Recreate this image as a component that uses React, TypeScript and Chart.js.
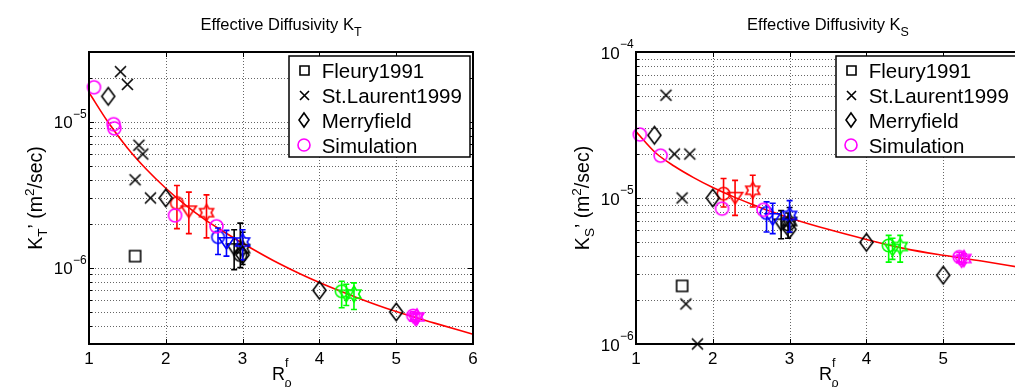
import { useEffect, useRef } from 'react';
import { Chart, registerables } from 'chart.js';

Chart.register(...registerables);

const FONT = '"Liberation Sans", Arial, Helvetica, sans-serif';

// ---------- shared ----------
const xTickValues = [1, 2, 3, 4, 5, 6];
const legendLabels = ['Fleury1991', 'St.Laurent1999', 'Merryfield', 'Simulation'];

// ---------- K_T panel ----------
const ktYRange = [3e-7, 3e-5];
const ktYMajor = [1e-6, 1e-5];
const ktFleuryX = [1.6];
const ktFleuryY = [1.2e-6];
const ktLaurentX = [1.41, 1.5, 1.65, 1.7, 1.6, 1.8];
const ktLaurentY = [2.2e-5, 1.8e-5, 6.9e-6, 6.0e-6, 4.0e-6, 3.0e-6];
const ktMerryX = [1.25, 2.0, 3.0, 4.0, 5.0];
const ktMerryY = [1.49e-5, 3.0e-6, 1.22e-6, 7.0e-7, 4.97e-7];
const ktSimX = [1.065, 1.32, 1.33, 2.12, 2.66];
const ktSimY = [1.72e-5, 9.6e-6, 9.0e-6, 2.28e-6, 1.92e-6];
// groups: [circle, down-triangle, hexagram]
const ktRedX = [2.145, 2.3, 2.53];
const ktRedY = [2.77e-6, 2.47e-6, 2.38e-6];
const ktRedLo = [1.85e-6, 1.71e-6, 1.6e-6];
const ktRedHi = [3.65e-6, 3.29e-6, 3.15e-6];
const ktBlueX = [2.68, 2.79, 3.0];
const ktBlueY = [1.62e-6, 1.5e-6, 1.5e-6];
const ktBlueLo = [1.23e-6, 1.2e-6, 1.13e-6];
const ktBlueHi = [1.87e-6, 1.8e-6, 1.82e-6];
const ktBlackX = [2.97, 2.89, 3.0];
const ktBlackY = [1.22e-6, 1.36e-6, 1.35e-6];
const ktBlackLo = [1.0e-6, 9.7e-7, 1.05e-6];
const ktBlackHi = [2.02e-6, 1.82e-6, 1.75e-6];
const ktGreenX = [4.29, 4.35, 4.45];
const ktGreenY = [6.9e-7, 6.55e-7, 6.6e-7];
const ktGreenLo = [5.32e-7, 5.5e-7, 5.17e-7];
const ktGreenHi = [8.07e-7, 7.7e-7, 7.87e-7];
const ktMagentaX = [5.22, 5.25, 5.27];
const ktMagentaY = [4.7e-7, 4.5e-7, 4.6e-7];
const ktMagentaLo = [4.4e-7, 4.2e-7, 4.3e-7];
const ktMagentaHi = [5.0e-7, 4.8e-7, 4.9e-7];
const ktCurveX = [1, 1.25, 1.5, 1.75, 2, 2.25, 2.5, 2.75, 3, 3.5, 4, 4.5, 5, 5.5, 6];
const ktCurveY = [1.585e-5, 9.9e-6, 6.6e-6, 4.7e-6, 3.5e-6, 2.7e-6, 2.15e-6, 1.77e-6, 1.47e-6, 1.05e-6, 7.9e-7, 6.2e-7, 5.0e-7, 4.17e-7, 3.5e-7];

// ---------- K_S panel ----------
const ksYRange = [1e-6, 1e-4];
const ksYMajor = [1e-6, 1e-5, 1e-4];
const ksFleuryX = [1.6];
const ksFleuryY = [2.5e-6];
const ksLaurentX = [1.39, 1.5, 1.7, 1.6, 1.65, 1.8];
const ksLaurentY = [5.06e-5, 2.0e-5, 2.0e-5, 1.0e-5, 1.88e-6, 1.0e-6];
const ksMerryX = [1.24, 2.0, 3.0, 4.0, 5.0];
const ksMerryY = [2.69e-5, 1.0e-5, 6.1e-6, 4.97e-6, 2.96e-6];
const ksSimX = [1.05, 1.32, 2.12, 2.66];
const ksSimY = [2.72e-5, 1.95e-5, 8.45e-6, 8.3e-6];
const ksRedX = [2.14, 2.29, 2.52];
const ksRedY = [1.07e-5, 1.02e-5, 1.13e-5];
const ksRedLo = [8.68e-6, 7.6e-6, 8.68e-6];
const ksRedHi = [1.36e-5, 1.32e-5, 1.43e-5];
const ksBlueX = [2.7, 2.78, 3.0];
const ksBlueY = [7.9e-6, 7.3e-6, 7.6e-6];
const ksBlueLo = [5.85e-6, 5.7e-6, 5.85e-6];
const ksBlueHi = [9.4e-6, 9.2e-6, 9.6e-6];
const ksBlackX = [2.98, 2.89, 3.0];
const ksBlackY = [6.6e-6, 6.7e-6, 6.9e-6];
const ksBlackLo = [5.3e-6, 5.26e-6, 5.8e-6];
const ksBlackHi = [7.9e-6, 8.2e-6, 8.6e-6];
const ksGreenX = [4.29, 4.34, 4.44];
const ksGreenY = [4.73e-6, 4.5e-6, 4.65e-6];
const ksGreenLo = [3.64e-6, 3.8e-6, 3.64e-6];
const ksGreenHi = [5.55e-6, 5.3e-6, 5.55e-6];
const ksMagentaX = [5.21, 5.24, 5.27];
const ksMagentaY = [3.95e-6, 3.75e-6, 3.85e-6];
const ksMagentaLo = [3.65e-6, 3.5e-6, 3.6e-6];
const ksMagentaHi = [4.25e-6, 4.05e-6, 4.15e-6];
const ksCurveX = [1, 1.25, 1.5, 1.75, 2, 2.25, 2.5, 2.75, 3, 3.5, 4, 4.5, 5, 5.5, 6];
const ksCurveY = [2.85e-5, 2.05e-5, 1.65e-5, 1.38e-5, 1.18e-5, 1.03e-5, 9.1e-6, 8.1e-6, 7.3e-6, 6.1e-6, 5.2e-6, 4.5e-6, 4.05e-6, 3.7e-6, 3.35e-6];

type Group = { color: string; x: number[]; y: number[]; lo: number[]; hi: number[] };
type PanelData = {
  sub: string;
  yRange: number[];
  yMajor: number[];
  fleury: [number[], number[]];
  laurent: [number[], number[]];
  merry: [number[], number[]];
  sim: [number[], number[]];
  groups: Group[];
  curve: [number[], number[]];
};

const ktPanel: PanelData = {
  sub: 'T',
  yRange: ktYRange,
  yMajor: ktYMajor,
  fleury: [ktFleuryX, ktFleuryY],
  laurent: [ktLaurentX, ktLaurentY],
  merry: [ktMerryX, ktMerryY],
  sim: [ktSimX, ktSimY],
  groups: [
    { color: '#ff0000', x: ktRedX, y: ktRedY, lo: ktRedLo, hi: ktRedHi },
    { color: '#0000ff', x: ktBlueX, y: ktBlueY, lo: ktBlueLo, hi: ktBlueHi },
    { color: '#000000', x: ktBlackX, y: ktBlackY, lo: ktBlackLo, hi: ktBlackHi },
    { color: '#00ff00', x: ktGreenX, y: ktGreenY, lo: ktGreenLo, hi: ktGreenHi },
    { color: '#ff00ff', x: ktMagentaX, y: ktMagentaY, lo: ktMagentaLo, hi: ktMagentaHi },
  ],
  curve: [ktCurveX, ktCurveY],
};

const ksPanel: PanelData = {
  sub: 'S',
  yRange: ksYRange,
  yMajor: ksYMajor,
  fleury: [ksFleuryX, ksFleuryY],
  laurent: [ksLaurentX, ksLaurentY],
  merry: [ksMerryX, ksMerryY],
  sim: [ksSimX, ksSimY],
  groups: [
    { color: '#ff0000', x: ksRedX, y: ksRedY, lo: ksRedLo, hi: ksRedHi },
    { color: '#0000ff', x: ksBlueX, y: ksBlueY, lo: ksBlueLo, hi: ksBlueHi },
    { color: '#000000', x: ksBlackX, y: ksBlackY, lo: ksBlackLo, hi: ksBlackHi },
    { color: '#00ff00', x: ksGreenX, y: ksGreenY, lo: ksGreenLo, hi: ksGreenHi },
    { color: '#ff00ff', x: ksMagentaX, y: ksMagentaY, lo: ksMagentaLo, hi: ksMagentaHi },
  ],
  curve: [ksCurveX, ksCurveY],
};

// ---------- helpers ----------
function makeMarker(kind: string, color: string, w: number, h: number, lw: number): HTMLCanvasElement {
  const pad = Math.ceil(lw) + 1;
  const c = document.createElement('canvas');
  c.width = Math.round(w + 2 * pad);
  c.height = Math.round(h + 2 * pad);
  const g = c.getContext('2d')!;
  g.strokeStyle = color;
  g.lineWidth = lw;
  const cx = c.width / 2;
  const cy = c.height / 2;
  const hw = w / 2;
  const hh = h / 2;
  g.beginPath();
  if (kind === 'circle') {
    g.arc(cx, cy, hw, 0, Math.PI * 2);
  } else if (kind === 'square') {
    g.rect(cx - hw, cy - hh, w, h);
  } else if (kind === 'diamond') {
    g.moveTo(cx, cy - hh);
    g.lineTo(cx + hw, cy);
    g.lineTo(cx, cy + hh);
    g.lineTo(cx - hw, cy);
    g.closePath();
  } else if (kind === 'x') {
    g.moveTo(cx - hw, cy - hh);
    g.lineTo(cx + hw, cy + hh);
    g.moveTo(cx + hw, cy - hh);
    g.lineTo(cx - hw, cy + hh);
  } else if (kind === 'triDown') {
    g.moveTo(cx - hw, cy - hh * 0.6);
    g.lineTo(cx + hw, cy - hh * 0.6);
    g.lineTo(cx, cy + hh);
    g.closePath();
  } else if (kind === 'hexagram') {
    for (let k = 0; k < 12; k++) {
      const r = k % 2 === 0 ? hw : hw * 0.58;
      const ang = -Math.PI / 2 + (k * Math.PI) / 6;
      const px = cx + r * Math.cos(ang);
      const py = cy + r * Math.sin(ang);
      if (k === 0) g.moveTo(px, py);
      else g.lineTo(px, py);
    }
    g.closePath();
  }
  g.stroke();
  return c;
}

type Seg = { t: string; size: number; dy: number };
function drawRich(ctx: CanvasRenderingContext2D, segs: Seg[], x: number, y: number, align: 'left' | 'center' | 'right') {
  const widths = segs.map((s) => {
    ctx.font = `${s.size}px ${FONT}`;
    return ctx.measureText(s.t).width;
  });
  const total = widths.reduce((p, c) => p + c, 0);
  let cur = align === 'center' ? x - total / 2 : align === 'right' ? x - total : x;
  ctx.textAlign = 'left';
  ctx.textBaseline = 'alphabetic';
  segs.forEach((s, i) => {
    ctx.font = `${s.size}px ${FONT}`;
    ctx.fillText(s.t, cur, y + s.dy);
    cur += widths[i];
  });
}

function logGridValues(min: number, max: number): number[] {
  const out: number[] = [];
  const e0 = Math.floor(Math.log10(min));
  const e1 = Math.ceil(Math.log10(max));
  for (let e = e0; e <= e1; e++) {
    for (let m = 1; m <= 9; m++) {
      const v = parseFloat((m * Math.pow(10, e)).toPrecision(6));
      if (v >= min * (1 - 1e-9) && v <= max * (1 + 1e-9)) out.push(v);
    }
  }
  return out;
}

function isMajor(v: number, majors: number[]) {
  return majors.some((m) => Math.abs(v / m - 1) < 1e-6);
}

function buildConfig(panel: PanelData) {
  const lw = 1.6;
  const mk = {
    square: makeMarker('square', '#000', 11, 11, lw),
    x: makeMarker('x', '#000', 11, 11, lw),
    diamond: makeMarker('diamond', '#000', 13, 17.5, lw),
    simCircle: makeMarker('circle', '#ff00ff', 13, 13, lw),
  };
  const legendMarkers = [
    makeMarker('square', '#000', 9, 9, lw),
    makeMarker('x', '#000', 9, 9, lw),
    makeMarker('diamond', '#000', 10, 14, lw),
    makeMarker('circle', '#ff00ff', 12, 12, lw),
  ];
  const toPts = (xs: number[], ys: number[]) => xs.map((x, i) => ({ x, y: ys[i] }));

  const groupSets = panel.groups.map((g) => ({
    label: 'group',
    data: g.x.map((x, i) => ({ x, y: g.y[i], lo: g.lo[i], hi: g.hi[i] })),
    pointStyle: [
      makeMarker('circle', g.color, 12.5, 12.5, lw),
      makeMarker('triDown', g.color, 15, 14, lw),
      makeMarker('hexagram', g.color, 16, 16, lw),
    ],
    pointRadius: 6,
    errorBars: true,
    errColor: g.color,
    clip: false,
  }));

  const datasets: any[] = [
    { label: legendLabels[0], data: toPts(panel.fleury[0], panel.fleury[1]), pointStyle: mk.square, pointRadius: 6, clip: false },
    { label: legendLabels[1], data: toPts(panel.laurent[0], panel.laurent[1]), pointStyle: mk.x, pointRadius: 6, clip: false },
    { label: legendLabels[2], data: toPts(panel.merry[0], panel.merry[1]), pointStyle: mk.diamond, pointRadius: 6, clip: false },
    { label: legendLabels[3], data: toPts(panel.sim[0], panel.sim[1]), pointStyle: mk.simCircle, pointRadius: 6, clip: false },
    ...groupSets,
    {
      label: 'fit',
      data: toPts(panel.curve[0], panel.curve[1]),
      showLine: true,
      borderColor: '#ff0000',
      borderWidth: 1.6,
      pointRadius: 0,
      cubicInterpolationMode: 'monotone',
      clip: false,
    },
  ];

  const [yMin, yMax] = panel.yRange;

  const plugin = {
    id: 'matlabPanel',
    beforeDatasetsDraw(chart: any) {
      const { ctx, chartArea: a } = chart;
      const xs = chart.scales.x;
      const ys = chart.scales.y;
      ctx.save();
      ctx.strokeStyle = '#666666';
      ctx.lineWidth = 1;
      ctx.setLineDash([1, 2]);
      ctx.beginPath();
      for (const v of xTickValues) {
        if (v <= xTickValues[0] || v >= xTickValues[xTickValues.length - 1]) continue;
        const px = Math.round(xs.getPixelForValue(v)) + 0.5;
        ctx.moveTo(px, a.top);
        ctx.lineTo(px, a.bottom);
      }
      for (const v of logGridValues(yMin, yMax)) {
        const py = Math.round(ys.getPixelForValue(v)) + 0.5;
        if (py <= a.top + 1 || py >= a.bottom - 1) continue;
        ctx.moveTo(a.left, py);
        ctx.lineTo(a.right, py);
      }
      ctx.stroke();
      ctx.restore();
    },
    beforeDatasetDraw(chart: any, args: any) {
      const ds = chart.data.datasets[args.index];
      if (!ds.errorBars) return;
      const { ctx } = chart;
      const ys = chart.scales.y;
      ctx.save();
      ctx.strokeStyle = ds.errColor;
      ctx.lineWidth = 1.6;
      ctx.beginPath();
      args.meta.data.forEach((el: any, i: number) => {
        const raw = ds.data[i];
        const px = el.x;
        const pLo = ys.getPixelForValue(raw.lo);
        const pHi = ys.getPixelForValue(raw.hi);
        ctx.moveTo(px, pLo);
        ctx.lineTo(px, pHi);
        ctx.moveTo(px - 3, pLo);
        ctx.lineTo(px + 3, pLo);
        ctx.moveTo(px - 3, pHi);
        ctx.lineTo(px + 3, pHi);
      });
      ctx.stroke();
      ctx.restore();
    },
    afterDraw(chart: any) {
      const { ctx, chartArea: a } = chart;
      const xs = chart.scales.x;
      const ys = chart.scales.y;
      ctx.save();
      ctx.setLineDash([]);
      ctx.strokeStyle = '#000';
      ctx.fillStyle = '#000';
      // tick marks
      ctx.lineWidth = 1;
      ctx.beginPath();
      for (const v of xTickValues) {
        const px = Math.round(xs.getPixelForValue(v)) + 0.5;
        ctx.moveTo(px, a.bottom);
        ctx.lineTo(px, a.bottom - 5);
        ctx.moveTo(px, a.top);
        ctx.lineTo(px, a.top + 5);
      }
      for (const v of logGridValues(yMin, yMax)) {
        const py = Math.round(ys.getPixelForValue(v)) + 0.5;
        const len = isMajor(v, panel.yMajor) ? 5 : 3;
        ctx.moveTo(a.left, py);
        ctx.lineTo(a.left + len, py);
        ctx.moveTo(a.right, py);
        ctx.lineTo(a.right - len, py);
      }
      ctx.stroke();
      // box
      ctx.lineWidth = 2;
      ctx.strokeRect(a.left, a.top, a.right - a.left, a.bottom - a.top);

      // x tick labels
      ctx.textAlign = 'center';
      ctx.textBaseline = 'alphabetic';
      ctx.font = `17px ${FONT}`;
      for (const v of xTickValues) {
        ctx.fillText(String(v), xs.getPixelForValue(v), a.bottom + 20);
      }
      // y tick labels
      for (const v of panel.yMajor) {
        const py = ys.getPixelForValue(v);
        const exp = Math.round(Math.log10(v));
        ctx.font = `17px ${FONT}`;
        ctx.textAlign = 'right';
        ctx.fillText('10', a.left - 16.3, py + 6.5);
        ctx.font = `12px ${FONT}`;
        ctx.textAlign = 'left';
        ctx.fillText(exp < 0 ? '\u2212' + String(-exp) : String(exp), a.left - 16, py - 4);
      }
      // title
      const cx = (a.left + a.right) / 2;
      drawRich(
        ctx,
        [
          { t: 'Effective Diffusivity K', size: 16.5, dy: 0 },
          { t: panel.sub, size: 12.5, dy: 6 },
        ],
        cx,
        29.5,
        'center'
      );
      // x label R_rho^f
      ctx.font = `18px ${FONT}`;
      ctx.textAlign = 'left';
      ctx.fillText('R', cx - 9, a.bottom + 36);
      ctx.font = `12.5px ${FONT}`;
      ctx.fillText('f', cx + 4, a.bottom + 23);
      ctx.fillText('\u03C1', cx + 3.5, a.bottom + 43);
      // y label
      ctx.save();
      ctx.translate(a.left - 47.5, (a.top + a.bottom) / 2);
      ctx.rotate(-Math.PI / 2);
      drawRich(
        ctx,
        [
          { t: 'K', size: 19.5, dy: 0 },
          { t: panel.sub, size: 13.5, dy: 5 },
          { t: '\u2019 (m', size: 19.5, dy: 0 },
          { t: '2', size: 13.5, dy: -8 },
          { t: '/sec)', size: 19.5, dy: 0 },
        ],
        0,
        0,
        'center'
      );
      ctx.restore();

      // legend
      const lx = a.left + 200;
      const ly = a.top + 4;
      const lwid = 181;
      const lh = 101;
      ctx.fillStyle = '#fff';
      ctx.fillRect(lx, ly, lwid, lh);
      ctx.strokeStyle = '#000';
      ctx.lineWidth = 1.5;
      ctx.strokeRect(lx, ly, lwid, lh);
      ctx.fillStyle = '#000';
      ctx.font = `20.5px ${FONT}`;
      ctx.textAlign = 'left';
      legendLabels.forEach((lab, i) => {
        const cy = ly + 14.7 + i * 24.8;
        const img = legendMarkers[i];
        ctx.drawImage(img, Math.round(a.left + 215 - img.width / 2), Math.round(cy - img.height / 2));
        ctx.fillText(lab, a.left + 232.7, cy + 7.4);
      });
      ctx.restore();
    },
  };

  return {
    type: 'scatter' as const,
    data: { datasets },
    options: {
      responsive: false,
      animation: false as const,
      events: [] as any[],
      layout: { padding: { top: 52, right: 27, left: 0, bottom: 0 } },
      scales: {
        x: {
          type: 'linear' as const,
          min: 1,
          max: 6,
          grid: { display: false },
          border: { display: false },
          ticks: { display: false },
          afterFit: (s: any) => {
            s.height = 43;
          },
        },
        y: {
          type: 'logarithmic' as const,
          min: yMin,
          max: yMax,
          grid: { display: false },
          border: { display: false },
          ticks: { display: false },
          afterFit: (s: any) => {
            s.width = 89;
          },
        },
      },
      plugins: {
        legend: { display: false },
        tooltip: { enabled: false },
        title: { display: false },
      },
    },
    plugins: [plugin],
  };
}

function Panel({ panel, left }: { panel: PanelData; left: number }) {
  const ref = useRef<HTMLCanvasElement>(null);
  useEffect(() => {
    const chart = new Chart(ref.current as HTMLCanvasElement, buildConfig(panel) as any);
    return () => chart.destroy();
  }, [panel]);
  return (
    <div style={{ position: 'absolute', left, top: 0, width: 500, height: 387 }}>
      <canvas ref={ref} width={500} height={387} style={{ display: 'block' }} />
    </div>
  );
}

export default function App() {
  return (
    <div
      style={{
        position: 'fixed',
        left: 0,
        top: 0,
        width: 1015,
        height: 387,
        overflow: 'hidden',
        background: '#fff',
      }}
    >
      <Panel panel={ktPanel} left={0} />
      <Panel panel={ksPanel} left={547} />
    </div>
  );
}
